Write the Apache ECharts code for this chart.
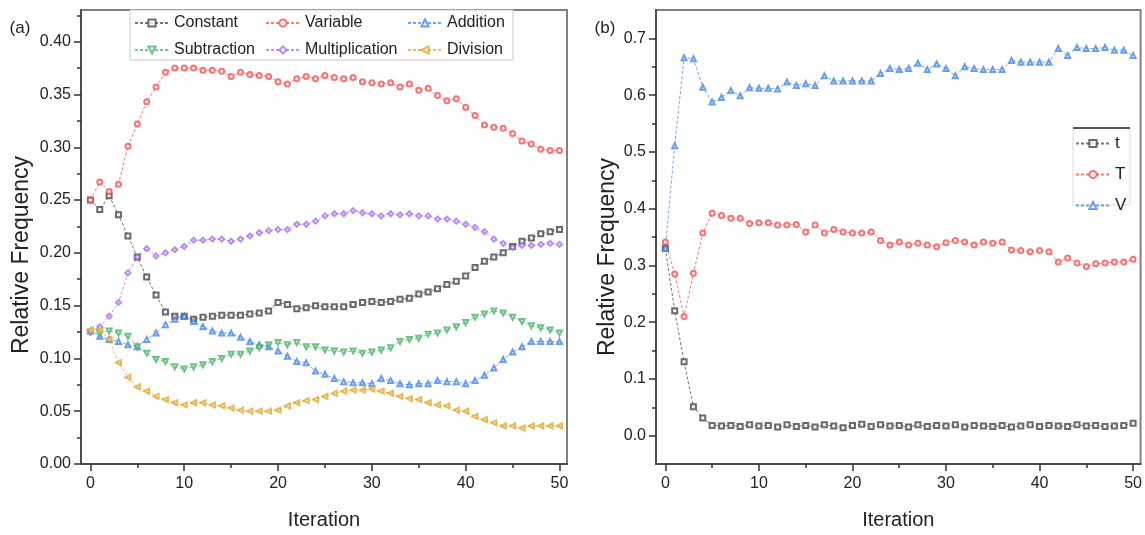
<!DOCTYPE html>
<html>
<head>
<meta charset="utf-8">
<script src="https://cdn.jsdelivr.net/npm/echarts@6/dist/echarts.min.js"></script>
<style>
html,body{margin:0;padding:0;background:#fff;}
#c{width:1145px;height:535px;}
</style>
</head>
<body>
<div id="c"></div>
<script>
// ---------- data ----------
const iterations = Array.from({length: 51}, (_, i) => i);

const constant = [0.250,0.241,0.254,0.236,0.216,0.196,0.177,0.160,0.144,0.140,
  0.140,0.137,0.139,0.140,0.141,0.141,0.141,0.142,0.143,0.145,
  0.153,0.151,0.147,0.148,0.150,0.149,0.149,0.149,0.151,0.153,
  0.154,0.153,0.154,0.156,0.157,0.161,0.163,0.166,0.170,0.173,
  0.178,0.186,0.192,0.196,0.200,0.206,0.211,0.214,0.218,0.220,0.222];
const variable = [0.250,0.267,0.258,0.265,0.301,0.322,0.343,0.357,0.371,0.375,
  0.375,0.375,0.373,0.373,0.372,0.367,0.371,0.369,0.368,0.367,
  0.362,0.360,0.365,0.367,0.365,0.368,0.366,0.365,0.366,0.362,
  0.361,0.360,0.361,0.357,0.360,0.354,0.356,0.349,0.344,0.346,
  0.338,0.330,0.321,0.319,0.318,0.313,0.306,0.303,0.298,0.297,0.297];
const addition = [0.126,0.121,0.118,0.116,0.113,0.111,0.118,0.124,0.132,0.137,
  0.140,0.135,0.130,0.126,0.124,0.124,0.120,0.116,0.113,0.111,
  0.107,0.102,0.097,0.096,0.088,0.085,0.081,0.078,0.077,0.077,
  0.076,0.081,0.079,0.076,0.075,0.076,0.076,0.079,0.078,0.078,
  0.076,0.079,0.084,0.091,0.099,0.106,0.111,0.116,0.116,0.116,0.116];
const subtraction = [0.125,0.124,0.126,0.124,0.121,0.111,0.105,0.099,0.097,0.092,
  0.090,0.092,0.094,0.097,0.100,0.104,0.104,0.107,0.110,0.113,
  0.115,0.113,0.115,0.111,0.111,0.108,0.107,0.106,0.107,0.105,
  0.106,0.108,0.110,0.116,0.118,0.119,0.123,0.124,0.127,0.130,
  0.134,0.139,0.142,0.145,0.143,0.139,0.135,0.131,0.129,0.127,0.124];
const multiplication = [0.125,0.130,0.140,0.153,0.181,0.196,0.204,0.197,0.200,0.203,
  0.206,0.212,0.212,0.213,0.213,0.211,0.213,0.216,0.219,0.221,
  0.222,0.222,0.227,0.227,0.230,0.235,0.237,0.237,0.240,0.238,
  0.237,0.235,0.237,0.236,0.237,0.235,0.235,0.232,0.232,0.230,
  0.227,0.224,0.220,0.213,0.209,0.205,0.207,0.207,0.208,0.209,0.208];
const division = [0.127,0.127,0.118,0.096,0.082,0.073,0.069,0.064,0.061,0.058,
  0.056,0.058,0.058,0.056,0.055,0.053,0.051,0.050,0.050,0.050,
  0.051,0.055,0.058,0.060,0.061,0.064,0.067,0.069,0.070,0.070,
  0.071,0.069,0.067,0.064,0.062,0.061,0.058,0.056,0.055,0.051,
  0.050,0.045,0.042,0.039,0.036,0.036,0.034,0.036,0.036,0.036,0.036];

const tLower = [0.330,0.220,0.130,0.051,0.031,0.018,0.017,0.018,0.016,0.019,
  0.017,0.018,0.015,0.019,0.016,0.018,0.015,0.019,0.017,0.014,
  0.018,0.020,0.016,0.019,0.017,0.018,0.015,0.019,0.016,0.018,
  0.017,0.019,0.015,0.018,0.017,0.016,0.018,0.015,0.017,0.019,
  0.016,0.018,0.017,0.016,0.019,0.017,0.018,0.016,0.017,0.018,0.022];
const tUpper = [0.341,0.285,0.210,0.286,0.357,0.392,0.388,0.383,0.383,0.374,
  0.375,0.375,0.371,0.371,0.372,0.359,0.371,0.357,0.363,0.359,
  0.357,0.357,0.359,0.344,0.336,0.341,0.336,0.339,0.336,0.333,
  0.340,0.344,0.341,0.336,0.341,0.339,0.341,0.327,0.326,0.324,
  0.326,0.324,0.306,0.313,0.304,0.298,0.303,0.304,0.306,0.306,0.311];
const vSeries = [0.330,0.511,0.666,0.664,0.614,0.588,0.596,0.608,0.599,0.613,
  0.612,0.612,0.611,0.623,0.617,0.620,0.617,0.634,0.625,0.625,
  0.625,0.625,0.625,0.638,0.647,0.645,0.647,0.656,0.645,0.655,
  0.647,0.634,0.650,0.647,0.645,0.645,0.645,0.661,0.658,0.658,
  0.658,0.658,0.682,0.670,0.684,0.682,0.682,0.684,0.679,0.679,0.670];

const xTicks = [0, 10, 20, 30, 40, 50];
const xMinor = [5, 15, 25, 35, 45];
const yTicksA = [0, 0.05, 0.10, 0.15, 0.20, 0.25, 0.30, 0.35, 0.40];
const yMinorA = [0.025, 0.075, 0.125, 0.175, 0.225, 0.275, 0.325, 0.375, 0.425];
const yTicksB = [0, 0.1, 0.2, 0.3, 0.4, 0.5, 0.6, 0.7];
const yMinorB = [0.05, 0.15, 0.25, 0.35, 0.45, 0.55, 0.65];

// ---------- chart ----------
const FONT = '"Liberation Sans", Arial, sans-serif';
const chart = echarts.init(document.getElementById('c'), null, {renderer: 'canvas'});

const pair = arr => iterations.map((x, i) => [x, arr[i]]);

function mkSeries(name, data, color, symbol, rot, xi, yi) {
  return {
    name, type: 'line', xAxisIndex: xi, yAxisIndex: yi,
    data: pair(data),
    symbol, symbolSize: 5, symbolRotate: rot,
    showSymbol: true,
    lineStyle: {color, width: 1, type: [3, 2], opacity: 0.7},
    itemStyle: {color, borderColor: color, borderWidth: 1, opacity: 0.75},
    emphasis: {disabled: true},
    animation: false
  };
}

function xAxisMain(gi) {
  return {
    gridIndex: gi, type: 'value', min: -1, max: 50.8,
    splitLine: {show: false},
    axisLine: {show: true, onZero: false, lineStyle: {color: '#4d4d4d', width: 2}},
    axisTick: {show: true, length: 7, customValues: xTicks, lineStyle: {color: '#333', width: 1.5}},
    axisLabel: {customValues: xTicks, fontSize: 16, color: '#222', margin: 12, fontFamily: FONT},
    name: 'Iteration', nameLocation: 'middle', nameGap: 46,
    nameTextStyle: {fontSize: 20, color: '#222', fontFamily: FONT}
  };
}
function xAxisMinor(gi) {
  return {
    gridIndex: gi, type: 'value', min: -1, max: 50.8, position: 'bottom',
    splitLine: {show: false},
    axisLine: {show: false, onZero: false},
    axisTick: {show: true, length: 4, customValues: xMinor, lineStyle: {color: '#333', width: 1.5}},
    axisLabel: {show: false}
  };
}
function yAxisMain(gi, min, max, ticks, dec) {
  return {
    gridIndex: gi, type: 'value', min, max,
    splitLine: {show: false},
    axisLine: {show: true, onZero: false, lineStyle: {color: '#4d4d4d', width: 2}},
    axisTick: {show: true, length: 7, customValues: ticks, lineStyle: {color: '#333', width: 1.5}},
    axisLabel: {customValues: ticks, fontSize: 16, color: '#222', margin: 10, fontFamily: FONT,
      formatter: v => Number(v).toFixed(dec)}
  };
}
function yAxisMinor(gi, min, max, ticks) {
  return {
    gridIndex: gi, type: 'value', min, max, position: 'left',
    splitLine: {show: false},
    axisLine: {show: false, onZero: false},
    axisTick: {show: true, length: 4, customValues: ticks, lineStyle: {color: '#333', width: 1.5}},
    axisLabel: {show: false}
  };
}

const legendBase = {
  orient: 'vertical', itemWidth: 34, itemHeight: 9, itemGap: 11,
  textStyle: {fontSize: 16, color: '#222', fontFamily: FONT},
  selectedMode: false, padding: 0
};

const option = {
  backgroundColor: '#fff',
  animation: false,
  textStyle: {fontFamily: FONT},
  grid: [
    {left: 81, top: 10, width: 486, height: 454, show: true, borderColor: '#808080', borderWidth: 2, containLabel: false},
    {left: 656, top: 10, width: 486, height: 454, show: true, borderColor: '#808080', borderWidth: 2, containLabel: false}
  ],
  xAxis: [xAxisMain(0), xAxisMinor(0), xAxisMain(1), xAxisMinor(1)],
  yAxis: [
    yAxisMain(0, 0, 0.43, yTicksA, 2), yAxisMinor(0, 0, 0.43, yMinorA),
    yAxisMain(1, -0.05, 0.75, yTicksB, 1), yAxisMinor(1, -0.05, 0.75, yMinorB)
  ],
  legend: [
    Object.assign({}, legendBase, {left: 134, top: 15, data: ['Constant', 'Subtraction']}),
    Object.assign({}, legendBase, {left: 265, top: 15, data: ['Variable', 'Multiplication']}),
    Object.assign({}, legendBase, {left: 407, top: 15, data: ['Addition', 'Division']}),
    Object.assign({}, legendBase, {left: 1075, top: 135, itemGap: 14, textStyle: {fontSize: 17, color: '#222', fontFamily: FONT}, data: ['t', 'T', 'V']})
  ],
  graphic: [
    {type: 'rect', z: 3, shape: {x: 130, y: 10, width: 383, height: 50}, style: {fill: '#fff', stroke: '#c8c8c8', lineWidth: 1}},
    {type: 'rect', z: 3, shape: {x: 1073, y: 128, width: 57, height: 77}, style: {fill: '#fff', stroke: '#dcdcdc', lineWidth: 1}},
    {type: 'line', z: 4, shape: {x1: 1073, y1: 128, x2: 1130, y2: 128}, style: {stroke: '#555', lineWidth: 2}},
    {type: 'text', x: 20, y: 28, style: {text: '(a)', fontSize: 17, fill: '#222', fontFamily: FONT, align: 'center', verticalAlign: 'middle'}},
    {type: 'text', x: 605, y: 28, style: {text: '(b)', fontSize: 17, fill: '#222', fontFamily: FONT, align: 'center', verticalAlign: 'middle'}},
    {type: 'text', x: 22, y: 255, rotation: Math.PI / 2, style: {text: 'Relative Frequency', fontSize: 23, fill: '#222', fontFamily: FONT, align: 'center', verticalAlign: 'middle'}},
    {type: 'text', x: 608, y: 257, rotation: Math.PI / 2, style: {text: 'Relative Frequency', fontSize: 23, fill: '#222', fontFamily: FONT, align: 'center', verticalAlign: 'middle'}}
  ],
  series: [
    mkSeries('Constant', constant, '#3a3a3a', 'emptyRect', 0, 0, 0),
    mkSeries('Variable', variable, '#f54545', 'emptyCircle', 0, 0, 0),
    mkSeries('Addition', addition, '#3a7de6', 'emptyTriangle', 0, 0, 0),
    mkSeries('Subtraction', subtraction, '#3fae5f', 'emptyTriangle', 180, 0, 0),
    mkSeries('Multiplication', multiplication, '#a066ee', 'emptyDiamond', 0, 0, 0),
    mkSeries('Division', division, '#dfa21f', 'emptyTriangle', 90, 0, 0),
    mkSeries('t', tLower, '#3a3a3a', 'emptyRect', 0, 2, 2),
    mkSeries('T', tUpper, '#f54545', 'emptyCircle', 0, 2, 2),
    mkSeries('V', vSeries, '#3a7de6', 'emptyTriangle', 0, 2, 2)
  ]
};
chart.setOption(option);
</script>
</body>
</html>
